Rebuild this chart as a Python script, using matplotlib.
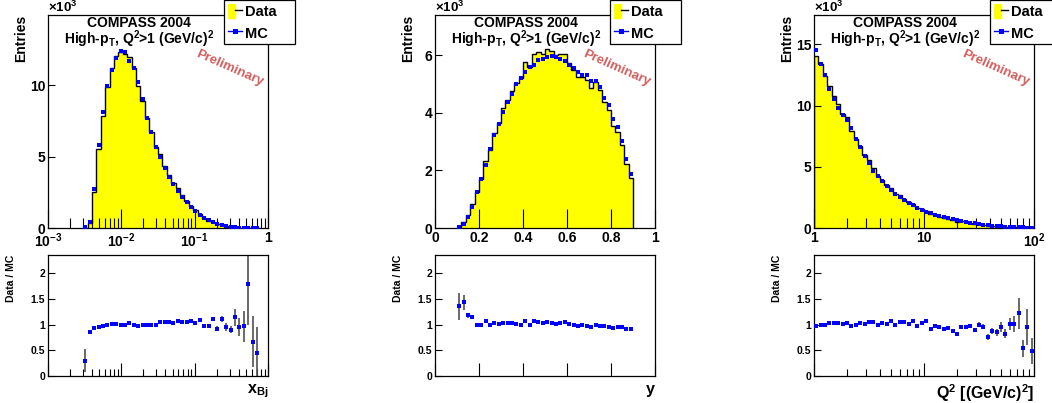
import numpy as np
import matplotlib
matplotlib.use("Agg")
import matplotlib.pyplot as plt
from matplotlib.patches import Patch
from matplotlib.lines import Line2D
from matplotlib.legend_handler import HandlerTuple
from matplotlib.ticker import FixedLocator, NullFormatter, NullLocator, LogLocator

plt.rcParams['font.family'] = ['Liberation Sans', 'DejaVu Sans']
plt.rcParams['font.weight'] = 'bold'
plt.rcParams['axes.labelweight'] = 'bold'
plt.rcParams['mathtext.fontset'] = 'custom'
plt.rcParams['mathtext.rm'] = 'Liberation Sans:bold'
plt.rcParams['mathtext.it'] = 'Liberation Sans:bold'
plt.rcParams['mathtext.bf'] = 'Liberation Sans:bold'

# ---- x_Bj : 50 log bins in [1e-3, 1], filled bins 8..47 (values in 10^3 entries)
xbj_edges = np.logspace(-3, 0, 51)[8:49]
xbj_mc = [0.10, 0.40, 2.70, 5.80, 8.10, 9.95, 11.07, 11.90, 12.40, 12.30,
          11.70, 11.20, 10.20, 9.00, 7.70, 6.70, 5.70, 5.00, 4.20, 3.60,
          3.10, 2.60, 2.20, 1.80, 1.47, 1.20, 0.93, 0.70, 0.54, 0.40,
          0.28, 0.19, 0.12, 0.08, 0.05, 0.03, 0.02, 0.015, 0.01, 0.005]
xbj_data = [0.03, 0.34, 2.51, 5.54, 7.86, 9.85, 11.18, 12.02, 12.28, 12.18,
            11.93, 11.20, 9.95, 8.91, 7.70, 6.70, 5.70, 5.20, 4.37, 3.74,
            3.18, 2.77, 2.31, 1.87, 1.56, 1.24, 1.01, 0.68, 0.52, 0.44,
            0.26, 0.21, 0.11, 0.07, 0.057, 0.029, 0.019, 0.027, 0.007, 0.002]
xbj_ratio = [0.30, 0.85, 0.93, 0.955, 0.97, 0.99, 1.01, 1.01, 0.99, 0.99,
             1.02, 1.00, 0.975, 0.99, 1.00, 1.00, 1.00, 1.04, 1.04, 1.04,
             1.025, 1.065, 1.05, 1.04, 1.06, 1.03, 1.085, 0.97, 0.97, 1.11,
             0.92, 1.10, 0.95, 0.90, 1.14, 0.95, 0.97, 1.79, 0.67, 0.45]
xbj_err = [0.23, 0.03, 0.01, 0.01, 0.01, 0.01, 0.01, 0.01, 0.01, 0.01,
           0.01, 0.01, 0.01, 0.01, 0.01, 0.01, 0.01, 0.01, 0.01, 0.01,
           0.015, 0.015, 0.015, 0.02, 0.02, 0.02, 0.025, 0.03, 0.03, 0.04,
           0.05, 0.06, 0.07, 0.07, 0.17, 0.18, 0.30, 0.80, 0.50, 0.50]

# ---- y : 50 bins in [0, 1], filled bins 5..44
y_edges = np.linspace(0, 1, 51)[5:46]
y_mc = [0.03, 0.14, 0.37, 0.72, 1.25, 1.71, 2.18, 2.75, 3.24, 3.62,
        4.04, 4.37, 4.66, 5.00, 5.21, 5.43, 5.59, 5.68, 5.82, 5.87,
        5.94, 5.97, 5.94, 5.87, 5.79, 5.67, 5.56, 5.41, 5.31, 5.31,
        5.10, 5.12, 4.90, 4.53, 4.28, 3.79, 3.50, 3.01, 2.41, 1.88]
y_data = [0.04, 0.20, 0.44, 0.83, 1.25, 1.71, 2.32, 2.72, 3.30, 3.66,
          4.16, 4.46, 4.75, 5.05, 5.21, 5.76, 5.59, 6.05, 6.11, 6.05,
          6.21, 6.15, 6.00, 6.05, 6.05, 5.73, 5.50, 5.25, 5.26, 5.15,
          4.85, 5.07, 4.80, 4.39, 4.09, 3.54, 3.33, 2.89, 2.22, 1.72]
y_ratio = [1.35, 1.43, 1.18, 1.15, 1.00, 1.00, 1.065, 0.99, 1.02, 1.01,
           1.03, 1.02, 1.02, 1.01, 1.00, 1.06, 1.00, 1.065, 1.05, 1.03,
           1.045, 1.03, 1.01, 1.03, 1.045, 1.01, 0.99, 0.97, 0.99, 0.97,
           0.95, 0.99, 0.98, 0.97, 0.955, 0.935, 0.95, 0.96, 0.92, 0.915]
y_err = [0.27, 0.14, 0.05, 0.03, 0.02, 0.015] + [0.01] * 34

# ---- Q2 : 50 log bins in [1, 100]
q2_edges = np.logspace(0, 2, 51)
q2_mc = [14.5, 13.4, 12.5, 11.35, 10.5, 9.8, 9.2, 8.85, 8.2, 7.3,
         6.6, 5.9, 5.27, 4.65, 4.27, 3.84, 3.46, 3.1, 2.78, 2.54,
         2.3, 2.08, 1.84, 1.65, 1.49, 1.32, 1.22, 1.08, 0.97, 0.89,
         0.78, 0.73, 0.65, 0.57, 0.49, 0.43, 0.38, 0.32, 0.27, 0.24,
         0.19, 0.16, 0.14, 0.11, 0.08, 0.07, 0.055, 0.045, 0.035, 0.03]
q2_data = [14.07, 13.4, 12.38, 11.63, 10.82, 10.09, 9.29, 9.07, 7.95, 7.23,
           6.73, 5.96, 5.53, 4.88, 4.27, 3.96, 3.49, 3.29, 2.78, 2.67,
           2.40, 2.10, 1.96, 1.62, 1.52, 1.40, 1.12, 1.05, 0.92, 0.81,
           0.73, 0.64, 0.53, 0.55, 0.47, 0.42, 0.34, 0.32, 0.26, 0.18,
           0.165, 0.135, 0.134, 0.091, 0.081, 0.07, 0.067, 0.024, 0.033, 0.015]
q2_ratio = [0.97, 1.0, 0.99, 1.025, 1.03, 1.03, 1.01, 1.025, 0.97, 0.99,
            1.02, 1.01, 1.05, 1.05, 1.0, 1.03, 1.01, 1.06, 1.0, 1.05,
            1.045, 1.01, 1.065, 0.98, 1.02, 1.06, 0.92, 0.97, 0.95, 0.91,
            0.935, 0.88, 0.82, 0.96, 0.95, 0.98, 0.9, 1.0, 0.955, 0.76,
            0.87, 0.845, 0.955, 0.825, 1.01, 1.005, 1.22, 0.535, 0.955, 0.49]
q2_err = [0.01] * 26 + [0.012, 0.012, 0.012, 0.015, 0.015, 0.02, 0.02, 0.025,
                        0.025, 0.03, 0.04, 0.04, 0.05, 0.06, 0.06, 0.07, 0.10,
                        0.09, 0.11, 0.16, 0.30, 0.17, 0.35, 0.25]

panels = [
    dict(edges=xbj_edges, mc=xbj_mc, data=xbj_data, ratio=xbj_ratio, err=xbj_err,
         log=True, xlim=(1e-3, 1), ymax=14.9, yticks=[0, 5, 10],
         xticks=[1e-3, 1e-2, 1e-1, 1], xlabels=['$10^{-3}$', '$10^{-2}$', '$10^{-1}$', '1'],
         xtitle='x$_{Bj}$', left=48, legx=224),
    dict(edges=y_edges, mc=y_mc, data=y_data, ratio=y_ratio, err=y_err,
         log=False, xlim=(0, 1), ymax=7.4, yticks=[0, 2, 4, 6],
         xticks=[0, 0.2, 0.4, 0.6, 0.8, 1], xlabels=['0', '0.2', '0.4', '0.6', '0.8', '1'],
         xtitle='y', left=435, legx=610),
    dict(edges=q2_edges, mc=q2_mc, data=q2_data, ratio=q2_ratio, err=q2_err,
         log=True, xlim=(1, 100), ymax=17.4, yticks=[0, 5, 10, 15],
         xticks=[1, 10, 100], xlabels=['1', '10', '$10^{2}$'],
         xtitle='Q$^{2}$ [(GeV/c)$^{2}$]', left=814, legx=990),
]

W, H = 1052, 403
fig = plt.figure(figsize=(W / 100, H / 100), dpi=100)

for p in panels:
    edges = p['edges']
    if p['log']:
        centers = np.sqrt(edges[:-1] * edges[1:])
    else:
        centers = 0.5 * (edges[:-1] + edges[1:])

    ax = fig.add_axes([p['left'] / W, (H - 228) / H, 220 / W, 213 / H])
    rax = fig.add_axes([p['left'] / W, (H - 376) / H, 220 / W, 121 / H])

    # ---- distribution
    ax.stairs(p['data'], edges, fill=True, color='#ffff00', zorder=1)
    ax.stairs(p['data'], edges, color='black', lw=1.0, baseline=0, zorder=2)
    ax.plot(centers, p['mc'], 's', color='#0000ff', ms=3.5, mew=0, zorder=3)

    # ---- ratio
    rax.errorbar(centers, p['ratio'], yerr=p['err'], fmt='none', ecolor='#505050',
                 elinewidth=1.2, capsize=0, zorder=2)
    rax.plot(centers, p['ratio'], 's', color='#0000ff', ms=3.3, mew=0, zorder=3)

    for a in (ax, rax):
        if p['log']:
            a.set_xscale('log')
            a.xaxis.set_minor_locator(LogLocator(base=10, subs=np.arange(2, 10)))
        else:
            a.xaxis.set_minor_locator(NullLocator())
        a.set_xlim(*p['xlim'])
        a.xaxis.set_major_locator(FixedLocator(p['xticks']))
        a.xaxis.set_minor_formatter(NullFormatter())
        a.yaxis.set_minor_locator(NullLocator())
        for s in a.spines.values():
            s.set_linewidth(0.9)

    ax.set_ylim(0, p['ymax'])
    ax.set_yticks(p['yticks'])
    ax.set_yticklabels([str(v) for v in p['yticks']])
    ax.set_xticklabels(p['xlabels'])
    ax.tick_params(axis='x', which='major', direction='in', length=13.5, width=0.8,
                   labelsize=10, pad=2.5)
    ax.tick_params(axis='x', which='minor', direction='in', length=7, width=0.8)
    ax.tick_params(axis='y', which='major', direction='in', length=5, width=0.8,
                   labelsize=10, pad=2)

    rax.set_ylim(0, 2.35)
    rax.set_yticks([0, 0.5, 1, 1.5, 2])
    rax.set_yticklabels(['0', '0.5', '1', '1.5', '2'])
    rax.set_xticklabels([])
    rax.tick_params(axis='x', which='major', direction='in', length=9.5, width=0.8)
    rax.tick_params(axis='x', which='minor', direction='in', length=5, width=0.8)
    rax.tick_params(axis='y', which='major', direction='in', length=5, width=0.8,
                    labelsize=7.5, pad=2)

    ax.text(-0.123, 1.0, 'Entries', rotation=90, ha='center', va='top',
            fontsize=10, transform=ax.transAxes)
    rax.text(-0.166, 1.0, 'Data / MC', rotation=90, ha='center', va='top',
             fontsize=7.5, transform=rax.transAxes)
    rax.set_xlabel(p['xtitle'], loc='right', fontsize=11.5, fontweight='bold',
                   labelpad=1)

    ax.text(0.0, 0.998, r'$\times10^{3}$', ha='left', va='bottom', fontsize=9.5,
            transform=ax.transAxes)
    ax.text(0.414, 0.962, 'COMPASS 2004', ha='center', va='center', fontsize=10,
            transform=ax.transAxes)
    ax.text(0.414, 0.885, r'High-p$_{T}$, Q$^{2}$>1 (GeV/c)$^{2}$', ha='center',
            va='center', fontsize=10, transform=ax.transAxes)
    ax.text(0.827, 0.751, 'Preliminary', ha='center', va='center', fontsize=9.5,
            rotation=-24, color='#d45c5c', transform=ax.transAxes)

    data_h = (Patch(facecolor='#ffff00', edgecolor='#ffff00'),
              Line2D([], [], color='black', lw=1.0))
    mc_h = Line2D([], [], color='#0000ff', marker='s', ms=3.6, mew=0, lw=1.0)
    leg = ax.legend([data_h, mc_h], ['Data', 'MC'],
                    handler_map={tuple: HandlerTuple(ndivide=None, pad=0)},
                    loc='upper left', mode='expand',
                    bbox_to_anchor=(p['legx'] / W, 1 - 47 / H, 71 / W, 47 / H),
                    bbox_transform=fig.transFigure, borderaxespad=0,
                    frameon=True, fancybox=False, edgecolor='black', framealpha=1,
                    fontsize=10.5, handlelength=1.0, handleheight=1.15,
                    handletextpad=0.2, borderpad=0.25, labelspacing=0.45)
    leg.get_frame().set_linewidth(0.9)
    leg.set_zorder(10)

fig.savefig('out.png', dpi=100)
